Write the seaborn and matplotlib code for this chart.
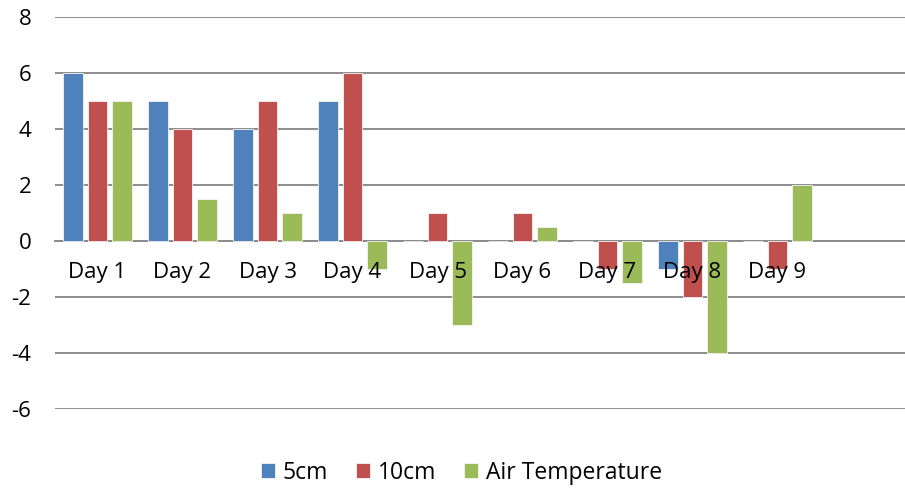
import matplotlib
matplotlib.use("Agg")
import matplotlib.pyplot as plt
import seaborn as sns
import pandas as pd

days = ["Day 1", "Day 2", "Day 3", "Day 4", "Day 5", "Day 6", "Day 7", "Day 8", "Day 9"]
depth_5cm = [6, 5, 4, 5, 0, 0, 0, -1, 0]
depth_10cm = [5, 4, 5, 6, 1, 1, -1, -2, -1]
air_temp = [5, 1.5, 1, -1, -3, 0.5, -1.5, -4, 2]
series_names = ["5cm", "10cm", "Air Temperature"]
y_ticks = [-6, -4, -2, 0, 2, 4, 6, 8]

colors = ["#4F81BD", "#C0504D", "#9BBB59"]

rows = []
for name, vals in zip(series_names, [depth_5cm, depth_10cm, air_temp]):
    for d, v in zip(days, vals):
        rows.append({"Day": d, "Value": v, "Series": name})
df = pd.DataFrame(rows)

sns.set_style("white")
plt.rcParams["font.family"] = ["Open Sans", "DejaVu Sans"]
plt.rcParams["text.color"] = "black"
plt.rcParams["xtick.color"] = "black"
plt.rcParams["ytick.color"] = "black"

fig = plt.figure(figsize=(9.05, 4.96), dpi=100)
ax = fig.add_axes([55 / 905, 1 - 409 / 496, 1 - 55 / 905, (409 - 17) / 496])

sns.barplot(data=df, x="Day", y="Value", hue="Series", order=days,
            hue_order=series_names, palette=colors, saturation=1,
            width=0.88, gap=0.2, edgecolor="#f4f4f4", linewidth=0.6,
            ax=ax, errorbar=None, zorder=3)

ax.set_xlim(-0.5, 9.5)
ax.set_ylim(-6, 8)
ax.set_yticks(y_ticks)
ax.set_yticklabels([str(t) for t in y_ticks], fontsize=16)
ax.yaxis.grid(True, color="#8c8c8c", linewidth=1.4, zorder=0)
ax.set_axisbelow(True)
# category labels sit on top of the bars
ax.xaxis.set_zorder(5)
ax.tick_params(axis="y", length=0, pad=17)
ax.tick_params(axis="x", length=0, pad=15, labelsize=16)

for s in ["top", "right", "left"]:
    ax.spines[s].set_visible(False)
ax.spines["bottom"].set_position(("data", 0))
ax.spines["bottom"].set_color("#8c8c8c")
ax.spines["bottom"].set_linewidth(1.4)
ax.spines["bottom"].set_zorder(2)

ax.set_xlabel("")
ax.set_ylabel("")

ax.legend(loc="center", bbox_to_anchor=(0.478, -0.163), ncol=3, frameon=False,
          fontsize=16.5, handlelength=0.62, handleheight=0.62, handletextpad=0.35,
          columnspacing=1.2)

fig.savefig("out.png", dpi=100)
